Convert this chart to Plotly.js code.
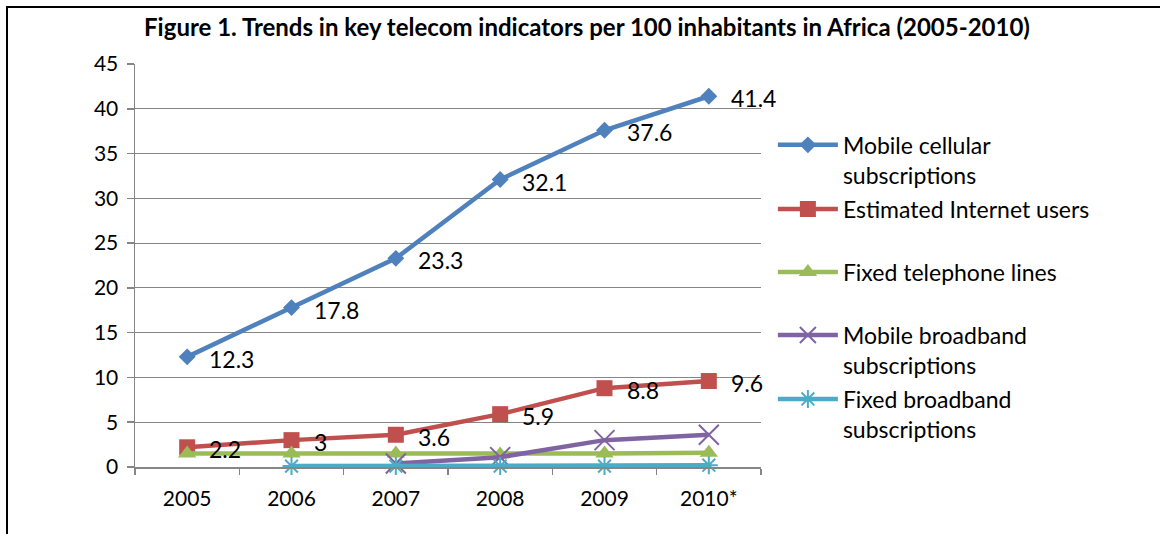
<!DOCTYPE html>
<html>
<head>
<meta charset="utf-8">
<script src="https://cdn.plot.ly/plotly-3.0.1.min.js"></script>
<style>
  html, body { margin: 0; padding: 0; background: #fff; }
  #frame { position: absolute; left: 6px; top: 6px; border-left: 2px solid #000; border-top: 2px solid #000; width: 1152px; height: 526px; }
  #chart { width: 1152px; height: 526px; }
</style>
</head>
<body>
<div id="frame"><div id="chart"></div></div>
<script>
const years = ['2005', '2006', '2007', '2008', '2009', '2010*'];
const mobileCellular = [12.3, 17.8, 23.3, 32.1, 37.6, 41.4];
const internetUsers = [2.2, 3, 3.6, 5.9, 8.8, 9.6];
const fixedTelephone = [1.5, 1.5, 1.5, 1.4, 1.5, 1.6];
const mobileBroadband = [null, null, 0.4, 1.1, 3.0, 3.6];
const fixedBroadband = [null, 0.1, 0.1, 0.1, 0.1, 0.2];
const seriesNames = ['Mobile cellular<br>subscriptions', 'Estimated Internet users', 'Fixed telephone lines', 'Mobile broadband<br>subscriptions', 'Fixed broadband<br>subscriptions'];
const yTicks = [0, 5, 10, 15, 20, 25, 30, 35, 40, 45];

const FONT = 'Lato, "Open Sans", sans-serif';
const colors = ['#4F81BD', '#C0504D', '#9BBB59', '#8064A2', '#4BACC6'];
const symbols = ['diamond', 'square', 'triangle-up', 'x-thin-open', 'asterisk-open'];
const sizes = [13, 16, 16, 20, 15];
const allSeries = [mobileCellular, internetUsers, fixedTelephone, mobileBroadband, fixedBroadband];
const legendIds = ['legend', 'legend2', 'legend3', 'legend4', 'legend5'];

const traces = allSeries.map((vals, i) => ({
  type: 'scatter', mode: 'lines+markers', x: years, y: vals, name: seriesNames[i],
  line: { color: colors[i], width: 4.5 },
  marker: { symbol: symbols[i], size: sizes[i], color: colors[i], line: { color: colors[i], width: (i >= 3 ? 2 : 0) } },
  cliponaxis: false, connectgaps: false,
  legend: legendIds[i]
}));

const annotations = [];
[mobileCellular, internetUsers].forEach((vals) => {
  vals.forEach((v, j) => {
    annotations.push({ x: j, y: v, xref: 'x', yref: 'y', text: String(v), showarrow: false,
      xanchor: 'left', yanchor: 'middle', xshift: 20, yshift: -2,
      font: { family: FONT, size: 23, color: '#000' } });
  });
});

const legendY = [0.762, 0.640, 0.484, 0.290, 0.1315];
const legendBase = (y) => ({ x: 1.019, xanchor: 'left', y: y, yanchor: 'middle', valign: 'top',
  font: { family: FONT, size: 23, color: '#000' }, bgcolor: 'rgba(0,0,0,0)', borderwidth: 0, itemwidth: 60 });

const layout = {
  width: 1152, height: 526,
  margin: { l: 127, r: 399, t: 56, b: 67 },
  paper_bgcolor: '#fff', plot_bgcolor: '#fff',
  font: { family: FONT, size: 21, color: '#000' },
  title: { text: '<b>Figure 1. Trends in key telecom indicators per 100 inhabitants in Africa (2005-2010)</b>',
    x: 0.5026, xref: 'container', xanchor: 'center', y: 0.962, yref: 'container', yanchor: 'middle',
    font: { family: FONT, size: 24, color: '#000' } },
  xaxis: { type: 'category', categoryorder: 'array', categoryarray: years, range: [-0.5, 5.5],
    showline: true, linecolor: '#868686', linewidth: 1.5, ticks: 'outside', tickson: 'boundaries', ticklen: 6,
    tickcolor: '#868686', tickwidth: 1.5, showgrid: false, zeroline: false, ticklabelstandoff: 12,
    tickfont: { family: FONT, size: 21, color: '#000' }, fixedrange: true },
  yaxis: { range: [0, 45], tickvals: yTicks, ticktext: yTicks.map(String), showline: true, linecolor: '#868686', linewidth: 1.5,
    ticks: 'outside', ticklen: 7, tickcolor: '#868686', tickwidth: 1.5, showgrid: true, gridcolor: '#868686', gridwidth: 1,
    zeroline: false, ticklabelstandoff: 4, tickfont: { family: FONT, size: 21, color: '#000' }, fixedrange: true },
  annotations: annotations,
  showlegend: true
};
legendIds.forEach((id, i) => { layout[id] = legendBase(legendY[i]); });

Plotly.newPlot('chart', traces, layout, { displayModeBar: false, staticPlot: true });
</script>
</body>
</html>
